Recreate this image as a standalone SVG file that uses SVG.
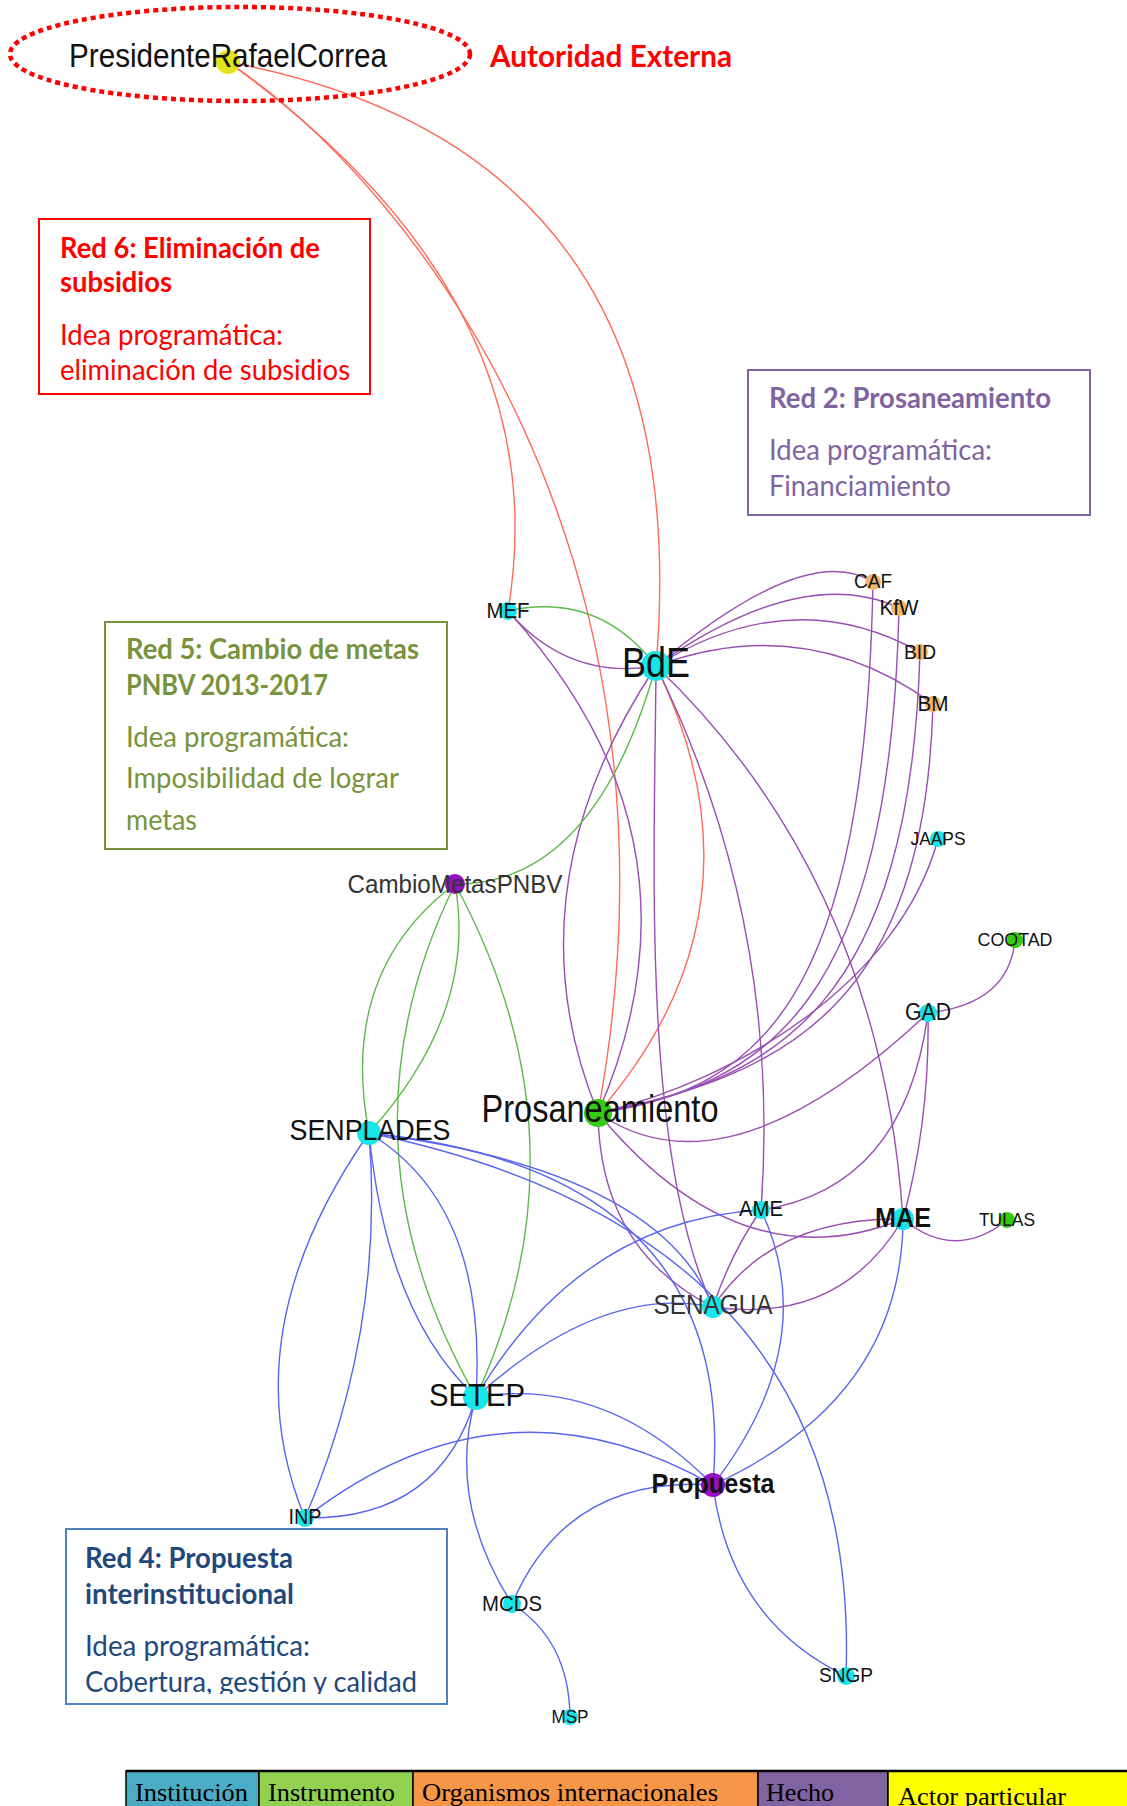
<svg xmlns="http://www.w3.org/2000/svg" width="1127" height="1806" viewBox="0 0 1127 1806">
<defs>
<style>
.e{fill:none;stroke-width:1.4;stroke-linecap:round}
.p{stroke:#9a4db3}
.g{stroke:#5dba4c}
.b{stroke:#5865ef}
.r{stroke:#ff6b57}
.l{font-family:"Liberation Sans",Arial,sans-serif;text-anchor:middle;fill:#111}
.cy{fill:#16e6ea}
.gn{fill:#34cc12}
.pu{fill:#9410c0}
.or{fill:#f2b668}
.ye{fill:#e3e31c}
.bx{font-family:Lato,"Liberation Sans",sans-serif;font-size:28px}
.hd{font-weight:700}
.lg{font-family:"Liberation Serif","Times New Roman",serif;font-size:26px;fill:#000}
</style>
<clipPath id="clip4"><rect x="66" y="1529" width="381" height="165"/></clipPath>
</defs>
<rect width="1127" height="1806" fill="#fff"/>

<g id="connectors">
<!-- red -->
<path class="e r" d="M228,62 Q560,300 508,611"/>
<path class="e r" d="M228,62 C420,190 700,560 598,1113"/>
<path class="e r" d="M228,62 Q700,150 656,666"/>
<path class="e r" d="M656,666 Q775,910 598,1113"/>
<!-- purple -->
<path class="e p" d="M508,611 Q568,681 656,666"/>
<path class="e p" d="M508,611 Q717,839 598,1113"/>
<path class="e p" d="M656,666 Q507,891 598,1113"/>
<path class="e p" d="M656,666 C655,850 640,1150 713,1307"/>
<path class="e p" d="M598,1113 Q600,1250 713,1307"/>
<path class="e p" d="M656,666 Q782,922 761,1210"/>
<path class="e p" d="M656,666 Q880,880 903,1219"/>
<path class="e p" d="M598,1113 Q740,1285 903,1219"/>
<path class="e p" d="M903,1219 Q955,1262 1007,1220"/>
<path class="e p" d="M713,1307 Q772,1217 903,1219"/>
<path class="e p" d="M713,1307 Q840,1325 903,1219"/>
<path class="e p" d="M761,1210 Q730,1255 713,1307"/>
<path class="e p" d="M928,1013 Q905,1188 761,1210"/>
<path class="e p" d="M928,1013 Q930,1120 903,1219"/>
<path class="e p" d="M928,1013 Q1009,1004 1015,940"/>
<path class="e p" d="M598,1113 Q727,1202 928,1013"/>
<path class="e p" d="M598,1113 C760,1090 865,1000 873,582"/>
<path class="e p" d="M598,1113 C770,1085 890,1000 899,608"/>
<path class="e p" d="M598,1113 C780,1080 910,1000 920,652"/>
<path class="e p" d="M598,1113 C790,1075 925,1000 933,704"/>
<path class="e p" d="M598,1113 C740,1080 900,980 938,839"/>
<path class="e p" d="M656,666 Q806,540 873,582"/>
<path class="e p" d="M656,666 Q802,563 899,608"/>
<path class="e p" d="M656,666 Q792,581 920,652"/>
<path class="e p" d="M656,666 Q805,611 933,704"/>
<!-- green -->
<path class="e g" d="M508,611 Q598,591 656,666"/>
<path class="e g" d="M656,666 Q594,885 455,884"/>
<path class="e g" d="M455,884 Q338,972 369,1133"/>
<path class="e g" d="M455,884 Q478,1012 369,1133"/>
<path class="e g" d="M455,884 Q330,1140 476,1397"/>
<path class="e g" d="M455,884 Q594,1140 476,1397"/>
<!-- blue -->
<path class="e b" d="M369,1133 Q387,1315 476,1397"/>
<path class="e b" d="M369,1133 Q488,1205 476,1397"/>
<path class="e b" d="M369,1133 Q229,1334 305,1518"/>
<path class="e b" d="M369,1133 Q385,1330 305,1518"/>
<path class="e b" d="M476,1397 Q440,1520 305,1518"/>
<path class="e b" d="M305,1518 Q502,1365 713,1485"/>
<path class="e b" d="M476,1397 Q606,1376 713,1485"/>
<path class="e b" d="M476,1397 Q581,1220 761,1210"/>
<path class="e b" d="M476,1397 Q601,1284 713,1307"/>
<path class="e b" d="M476,1397 Q446,1500 512,1604"/>
<path class="e b" d="M369,1133 Q739,1171 713,1485"/>
<path class="e b" d="M369,1133 Q862,1235 846,1676"/>
<path class="e b" d="M369,1133 Q659,1170 713,1307"/>
<path class="e b" d="M713,1485 Q902,1398 903,1219"/>
<path class="e b" d="M713,1485 Q823,1342 761,1210"/>
<path class="e b" d="M713,1485 Q567,1475 512,1604"/>
<path class="e b" d="M713,1485 Q730,1620 846,1676"/>
<path class="e b" d="M512,1604 Q569,1640 570,1717"/>
</g>

<g id="ellipse-autoridad">
<ellipse cx="240" cy="54" rx="230" ry="47" fill="none" stroke="#f00" stroke-width="4.5" stroke-dasharray="5 4"/>
<text x="490" y="67" font-family="Lato,'Liberation Sans',sans-serif" font-size="31" font-weight="700" fill="#f00" textLength="242" lengthAdjust="spacingAndGlyphs">Autoridad Externa</text>
</g>

<g id="box-red6">
<rect x="39" y="219" width="331" height="175" fill="#fff" stroke="#f00" stroke-width="2"/>
<g class="bx" fill="#f00">
<text class="hd" x="60" y="258" textLength="260" lengthAdjust="spacingAndGlyphs">Red 6: Eliminación de</text>
<text class="hd" x="60" y="292" textLength="112" lengthAdjust="spacingAndGlyphs">subsidios</text>
<text x="60" y="345" textLength="223" lengthAdjust="spacingAndGlyphs">Idea programática:</text>
<text x="60" y="380" textLength="290" lengthAdjust="spacingAndGlyphs">eliminación de subsidios</text>
</g>
</g>

<g id="box-red2">
<rect x="748" y="370" width="342" height="145" fill="#fff" stroke="#8064a2" stroke-width="2"/>
<g class="bx" fill="#8064a2">
<text class="hd" x="769" y="408" textLength="282" lengthAdjust="spacingAndGlyphs">Red 2: Prosaneamiento</text>
<text x="769" y="460" textLength="223" lengthAdjust="spacingAndGlyphs">Idea programática:</text>
<text x="769" y="496" textLength="182" lengthAdjust="spacingAndGlyphs">Financiamiento</text>
</g>
</g>

<g id="box-red5">
<rect x="105" y="622" width="342" height="227" fill="#fff" stroke="#77933c" stroke-width="2"/>
<g class="bx" fill="#77933c">
<text class="hd" x="126" y="659" textLength="293" lengthAdjust="spacingAndGlyphs">Red 5: Cambio de metas</text>
<text class="hd" x="126" y="695" textLength="202" lengthAdjust="spacingAndGlyphs">PNBV 2013-2017</text>
<text x="126" y="747" textLength="223" lengthAdjust="spacingAndGlyphs">Idea programática:</text>
<text x="126" y="788" textLength="273" lengthAdjust="spacingAndGlyphs">Imposibilidad de lograr</text>
<text x="126" y="830" textLength="71" lengthAdjust="spacingAndGlyphs">metas</text>
</g>
</g>

<g id="box-red4">
<rect x="66" y="1529" width="381" height="175" fill="#fff" stroke="#4f81bd" stroke-width="2"/>
<g class="bx" fill="#1f497d" clip-path="url(#clip4)">
<text class="hd" x="85" y="1568" textLength="208" lengthAdjust="spacingAndGlyphs">Red 4: Propuesta</text>
<text class="hd" x="85" y="1604" textLength="209" lengthAdjust="spacingAndGlyphs">interinstitucional</text>
<text x="85" y="1656" textLength="225" lengthAdjust="spacingAndGlyphs">Idea programática:</text>
<text x="85" y="1692" textLength="332" lengthAdjust="spacingAndGlyphs">Cobertura, gestión y calidad</text>
</g>
</g>

<g id="n-presidente"><circle class="ye" cx="228" cy="62" r="12"/><text class="l" x="228" y="67" font-size="34" textLength="318" lengthAdjust="spacingAndGlyphs">PresidenteRafaelCorrea</text></g>
<g id="n-mef"><circle class="cy" cx="508" cy="611" r="9"/><text class="l" x="508" y="618" font-size="22" textLength="43" lengthAdjust="spacingAndGlyphs">MEF</text></g>
<g id="n-bde"><circle class="cy" cx="656" cy="666" r="15"/><text class="l" x="656" y="677" font-size="42" textLength="68" lengthAdjust="spacingAndGlyphs">BdE</text></g>
<g id="n-caf"><circle class="or" cx="873" cy="582" r="8"/><text class="l" x="873" y="588" font-size="21" textLength="38" lengthAdjust="spacingAndGlyphs">CAF</text></g>
<g id="n-kfw"><circle class="or" cx="899" cy="608" r="8"/><text class="l" x="899" y="615" font-size="22" textLength="39" lengthAdjust="spacingAndGlyphs">KfW</text></g>
<g id="n-bid"><circle class="or" cx="920" cy="652" r="8"/><text class="l" x="920" y="659" font-size="21" textLength="32" lengthAdjust="spacingAndGlyphs">BID</text></g>
<g id="n-bm"><circle class="or" cx="933" cy="704" r="8"/><text class="l" x="933" y="711" font-size="22" textLength="31" lengthAdjust="spacingAndGlyphs">BM</text></g>
<g id="n-jaaps"><circle class="cy" cx="938" cy="839" r="8"/><text class="l" x="938" y="845" font-size="19" textLength="55" lengthAdjust="spacingAndGlyphs">JAAPS</text></g>
<g id="n-cootad"><circle class="gn" cx="1015" cy="940" r="8"/><text class="l" x="1015" y="946" font-size="19" textLength="75" lengthAdjust="spacingAndGlyphs">COOTAD</text></g>
<g id="n-gad"><circle class="cy" cx="928" cy="1013" r="9"/><text class="l" x="928" y="1020" font-size="23" textLength="46" lengthAdjust="spacingAndGlyphs">GAD</text></g>
<g id="n-cambiometas"><circle class="pu" cx="455" cy="884" r="10"/><text class="l" x="455" y="893" font-size="26" style="fill:#333" textLength="215" lengthAdjust="spacingAndGlyphs">CambioMetasPNBV</text></g>
<g id="n-prosaneamiento"><circle class="gn" cx="598" cy="1113" r="14"/><text class="l" x="600" y="1122" font-size="38" textLength="237" lengthAdjust="spacingAndGlyphs">Prosaneamiento</text></g>
<g id="n-senplades"><circle class="cy" cx="369" cy="1133" r="12"/><text class="l" x="370" y="1140" font-size="29" textLength="161" lengthAdjust="spacingAndGlyphs">SENPLADES</text></g>
<g id="n-ame"><circle class="cy" cx="761" cy="1210" r="9"/><text class="l" x="761" y="1216" font-size="22" textLength="44" lengthAdjust="spacingAndGlyphs">AME</text></g>
<g id="n-mae"><circle class="cy" cx="903" cy="1219" r="11"/><text class="l" x="903" y="1227" font-size="28" font-weight="700" textLength="56" lengthAdjust="spacingAndGlyphs">MAE</text></g>
<g id="n-tulas"><circle class="gn" cx="1007" cy="1220" r="8"/><text class="l" x="1007" y="1226" font-size="19" textLength="56" lengthAdjust="spacingAndGlyphs">TULAS</text></g>
<g id="n-senagua"><circle class="cy" cx="713" cy="1307" r="11"/><text class="l" x="713" y="1314" font-size="27" style="fill:#333" textLength="119" lengthAdjust="spacingAndGlyphs">SENAGUA</text></g>
<g id="n-setep"><circle class="cy" cx="476" cy="1397" r="13"/><text class="l" x="477" y="1406" font-size="32" textLength="96" lengthAdjust="spacingAndGlyphs">SETEP</text></g>
<g id="n-propuesta"><circle class="pu" cx="713" cy="1485" r="12"/><text class="l" x="713" y="1493" font-size="28" font-weight="700" textLength="123" lengthAdjust="spacingAndGlyphs">Propuesta</text></g>
<g id="n-inp"><circle class="cy" cx="305" cy="1518" r="9"/><text class="l" x="305" y="1524" font-size="22" textLength="33" lengthAdjust="spacingAndGlyphs">INP</text></g>
<g id="n-mcds"><circle class="cy" cx="512" cy="1604" r="9"/><text class="l" x="512" y="1611" font-size="22" textLength="60" lengthAdjust="spacingAndGlyphs">MCDS</text></g>
<g id="n-msp"><circle class="cy" cx="570" cy="1717" r="8"/><text class="l" x="570" y="1723" font-size="19" textLength="37" lengthAdjust="spacingAndGlyphs">MSP</text></g>
<g id="n-sngp"><circle class="cy" cx="846" cy="1676" r="9"/><text class="l" x="846" y="1682" font-size="21" textLength="54" lengthAdjust="spacingAndGlyphs">SNGP</text></g>

<g id="legend">
<rect x="126" y="1771" width="133" height="40" fill="#4bacc6" stroke="#000" stroke-width="1.5"/>
<rect x="259" y="1771" width="154" height="40" fill="#92d050" stroke="#000" stroke-width="1.5"/>
<rect x="413" y="1771" width="345" height="40" fill="#f79646" stroke="#000" stroke-width="1.5"/>
<rect x="758" y="1771" width="130" height="40" fill="#8064a2" stroke="#000" stroke-width="1.5"/>
<rect x="888" y="1771" width="245" height="40" fill="#ffff00" stroke="#000" stroke-width="1.5"/>
<line x1="126" y1="1771" x2="1127" y2="1771" stroke="#000" stroke-width="2.5"/>
<text class="lg" x="135" y="1801" textLength="113" lengthAdjust="spacingAndGlyphs">Institución</text>
<text class="lg" x="268" y="1801" textLength="127" lengthAdjust="spacingAndGlyphs">Instrumento</text>
<text class="lg" x="422" y="1801" textLength="296" lengthAdjust="spacingAndGlyphs">Organismos internacionales</text>
<text class="lg" x="766" y="1801" textLength="68" lengthAdjust="spacingAndGlyphs">Hecho</text>
<text class="lg" x="898" y="1805" textLength="168" lengthAdjust="spacingAndGlyphs">Actor particular</text>
</g>
</svg>
